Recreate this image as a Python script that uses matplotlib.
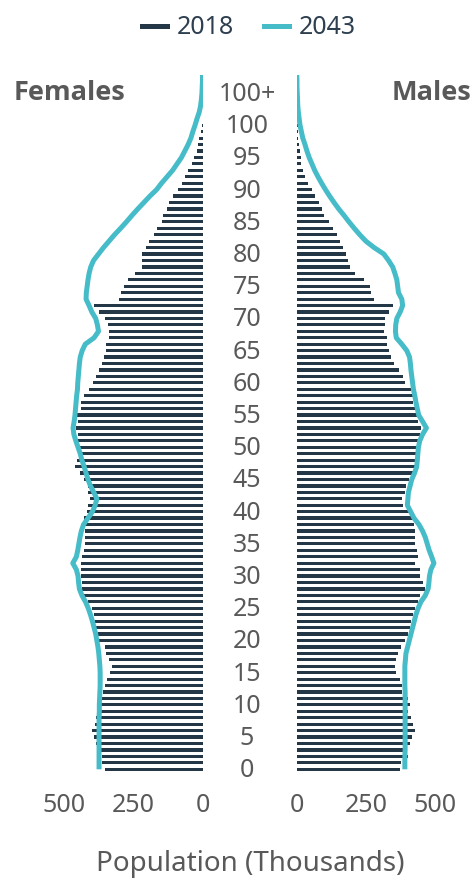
import matplotlib
matplotlib.use("Agg")
import matplotlib.pyplot as plt
from matplotlib.lines import Line2D
from matplotlib.transforms import blended_transform_factory, ScaledTranslation

plt.rcParams['font.family'] = ['Noto Sans', 'DejaVu Sans']

# ---------------- data ----------------
ages_2018 = list(range(0, 101))
female_2018 = [351, 362, 363, 366, 385, 392, 398, 390, 385, 383,
               381, 366, 360, 352, 345, 336, 328, 338, 348, 354,
               374, 379, 384, 389, 393, 401, 415, 429, 434, 434,
               439, 441, 441, 434, 428, 425, 425, 425, 425, 429,
               417, 415, 408, 415, 415, 429, 444, 460, 455, 451,
               454, 457, 451, 456, 451, 467, 441, 441, 427, 411,
               397, 386, 373, 363, 356, 350, 348, 338, 338, 343,
               354, 373, 391, 303, 295, 285, 271, 245, 217, 219,
               219, 205, 192, 177, 165, 148, 141, 130, 120, 107,
               87, 75, 64, 53, 38, 29, 20, 16, 11, 6,
               3]
male_2018 = [375, 378, 404, 399, 409, 416, 428, 421, 413, 403,
             411, 403, 379, 379, 372, 358, 356, 360, 367, 378,
             393, 401, 410, 415, 420, 426, 437, 447, 463, 455,
             446, 446, 429, 437, 435, 429, 428, 428, 425, 421,
             410, 386, 379, 390, 396, 405, 419, 433, 434, 434,
             437, 440, 447, 451, 440, 436, 431, 421, 419, 415,
             392, 383, 369, 350, 340, 332, 327, 325, 315, 320,
             321, 333, 348, 281, 269, 265, 243, 211, 192, 186,
             178, 168, 158, 144, 131, 115, 99, 93, 82, 66,
             54, 42, 30, 22, 17, 16, 11, 10, 6, 5,
             4]

ages_2043 = list(range(0, 109))
female_2043 = [374, 374, 374, 374, 374, 374, 374, 374, 374, 373,
               373, 372, 371, 370, 370, 370, 371, 373, 375, 378,
               382, 386, 392, 398, 405, 413, 423, 436, 445, 448,
               450, 456, 469, 456, 451, 447, 443, 438, 430, 414,
               398, 388, 382, 393, 405, 414, 421, 428, 436, 442,
               450, 458, 465, 468, 464, 461, 459, 457, 455, 452,
               451, 449, 447, 445, 442, 435, 424, 392, 376, 380,
               386, 400, 410, 421, 420, 417, 414, 410, 404, 394,
               376, 358, 338, 318, 296, 275, 255, 234, 212, 190,
               166, 148, 128, 108, 92, 76, 64, 52, 42, 35,
               27, 20, 12, 7, 4, 2, 1, 0, 0]
male_2043 = [391, 391, 391, 392, 392, 392, 392, 392, 392, 392,
             392, 392, 392, 391, 391, 391, 391, 393, 395, 401,
             407, 413, 419, 425, 431, 439, 449, 465, 475, 478,
             480, 485, 496, 488, 479, 472, 465, 455, 442, 424,
             412, 400, 402, 404, 410, 416, 426, 434, 436, 438,
             440, 445, 455, 469, 455, 441, 436, 431, 427, 422,
             419, 416, 413, 411, 408, 398, 380, 360, 357, 358,
             362, 374, 383, 380, 368, 365, 362, 355, 347, 332,
             315, 280, 250, 228, 208, 189, 171, 152, 135, 119,
             104, 90, 77, 65, 55, 45, 37, 30, 22, 17,
             12, 9, 6, 4, 3, 2, 1, 1, 0]

age_ticks = list(range(0, 106, 5))
age_labels = [str(a) for a in range(0, 101, 5)] + ['100+']
x_ticks = [0, 250, 500]
series_names = ['2018', '2043']

# ---------------- style ----------------
NAVY = '#243746'
TEAL = '#45BCC8'
GRAY = '#595959'

W, H = 474, 881
fig = plt.figure(figsize=(W / 100, H / 100), dpi=100)

xmax = 520
px_per_k = 0.2766
ax_w = xmax * px_per_k
bottom_px = 108.5
height_px = 697.5
ylim = (-0.5, 107.8)

ax_l = fig.add_axes([(202.5 - ax_w) / W, bottom_px / H, ax_w / W, height_px / H])
ax_r = fig.add_axes([296.7 / W, bottom_px / H, ax_w / W, height_px / H])

for ax, bars, line in ((ax_l, female_2018, female_2043), (ax_r, male_2018, male_2043)):
    ax.barh(ages_2018, bars, height=0.5, color=NAVY, linewidth=0)
    ax.plot(line, ages_2043, color=TEAL, lw=3.6, solid_capstyle='butt',
            solid_joinstyle='round')
    ax.set_ylim(*ylim)
    ax.set_xlim(0, xmax)
    ax.set_yticks([])
    ax.set_xticks(x_ticks)
    ax.set_xticklabels([str(t) for t in x_ticks])
    ax.tick_params(axis='x', length=0, pad=15, labelsize=18, labelcolor=GRAY)
    for s in ax.spines.values():
        s.set_visible(False)
    ax.patch.set_alpha(0)

ax_l.invert_xaxis()

# age labels in the middle
trans = blended_transform_factory(fig.transFigure, ax_r.transData) + \
    ScaledTranslation(0, -1.5 / 100, fig.dpi_scale_trans)
for a, lab in zip(age_ticks, age_labels):
    ax_r.text(247 / W, a, lab, transform=trans, ha='center', va='center',
              fontsize=18, color=GRAY, clip_on=False)

# panel titles
bold_family = ['Open Sans', 'Lato', 'DejaVu Sans']
fig.text(14 / W, 1 - 93 / H, 'Females', ha='left', va='center',
         fontsize=19.5, fontweight='bold', color=GRAY, family=bold_family)
fig.text(471 / W, 1 - 93 / H, 'Males', ha='right', va='center',
         fontsize=19.5, fontweight='bold', color=GRAY, family=bold_family)

# axis title
fig.text(250 / W, 1 - 864 / H, 'Population (Thousands)', ha='center', va='center',
         fontsize=20, color=GRAY)

# legend
handles = [Line2D([], [], color=NAVY, lw=3.6),
           Line2D([], [], color=TEAL, lw=3.6)]
leg = fig.legend(handles, series_names, loc='center', bbox_to_anchor=(249 / W, 1 - 28 / H),
                 ncol=2, frameon=False, fontsize=18, handlelength=1.0,
                 handletextpad=0.4, columnspacing=1.2, borderpad=0)
for t in leg.get_texts():
    t.set_color('#2E3F4F')

fig.savefig('out.png', dpi=100)
